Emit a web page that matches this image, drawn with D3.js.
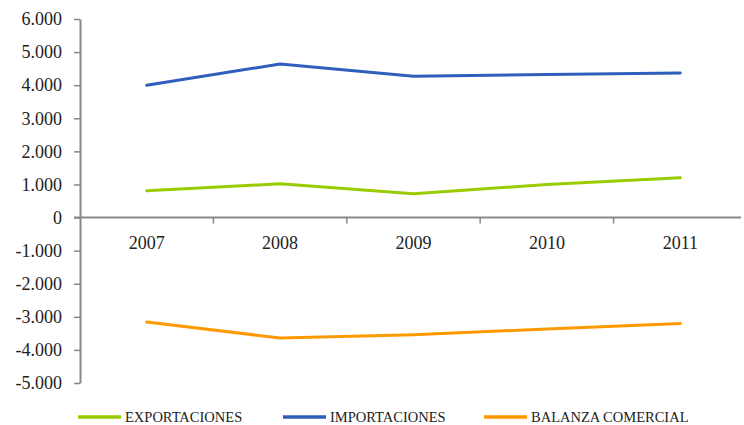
<!DOCTYPE html>
<html>
<head>
<meta charset="utf-8">
<script src="https://cdn.jsdelivr.net/npm/d3@7"></script>
<style>
  body { margin: 0; background: #fff; }
  svg text { font-family: "Liberation Serif", "DejaVu Serif", serif !important; fill: #222; }
</style>
</head>
<body>
<div id="chart"></div>
<script>
const years = ['2007', '2008', '2009', '2010', '2011'];
const exportaciones = [810, 1020, 720, 1000, 1200];
const importaciones = [4000, 4640, 4270, 4320, 4370];
const balanza = [-3160, -3640, -3540, -3370, -3200];
const yTicks = [6000, 5000, 4000, 3000, 2000, 1000, 0, -1000, -2000, -3000, -4000, -5000];

const series = [
  { name: 'EXPORTACIONES', values: exportaciones, color: '#99cc00' },
  { name: 'IMPORTACIONES', values: importaciones, color: '#2f5fbd' },
  { name: 'BALANZA COMERCIAL', values: balanza, color: '#ff9900' },
];

const width = 744;
const height = 425;
const serif = '"Liberation Serif", "DejaVu Serif", serif';

const svg = d3.select('#chart').append('svg')
  .attr('width', width)
  .attr('height', height)
  .attr('font-family', serif);

const x = d3.scaleBand()
  .domain(years)
  .range([80, 747]);

const y = d3.scaleLinear()
  .domain([-5000, 6000])
  .range([383, 19]);

const fmt = v => d3.format(',')(v).replace(/,/g, '.').replace('−', '-');

// y axis
const yAxis = svg.append('g')
  .attr('transform', 'translate(80,0)')
  .call(d3.axisLeft(y).tickValues(yTicks).tickFormat(fmt).tickSize(6).tickSizeOuter(0))
  .attr('font-family', serif)
  .attr('font-size', 18);
yAxis.select('.domain').attr('stroke', '#888').attr('stroke-width', 2);
yAxis.selectAll('.tick line').attr('stroke', '#888').attr('stroke-width', 1.5);
yAxis.selectAll('.tick text')
  .attr('x', -18)
  .attr('fill', '#222');

// x axis at zero, ticks between categories
const x0 = y(0);
svg.append('line')
  .attr('x1', 74).attr('x2', 741)
  .attr('y1', x0).attr('y2', x0)
  .attr('stroke', '#888').attr('stroke-width', 2);

svg.selectAll('.xtick')
  .data(years.slice(1))
  .enter().append('line')
  .attr('x1', d => x(d)).attr('x2', d => x(d))
  .attr('y1', x0).attr('y2', x0 + 6)
  .attr('stroke', '#888').attr('stroke-width', 1.5);

svg.selectAll('.xlabel')
  .data(years)
  .enter().append('text')
  .attr('x', d => x(d) + x.bandwidth() / 2)
  .attr('y', x0 + 31)
  .attr('text-anchor', 'middle')
  .attr('font-size', 18)
  .text(d => d);

// lines
const line = d3.line()
  .x((d, i) => x(years[i]) + x.bandwidth() / 2)
  .y(d => y(d));

series.forEach(s => {
  svg.append('path')
    .datum(s.values)
    .attr('fill', 'none')
    .attr('stroke', s.color)
    .attr('stroke-width', 3)
    .attr('stroke-linecap', 'round')
    .attr('stroke-linejoin', 'round')
    .attr('d', line);
});

// legend
const legendX = [78, 283, 484];
const legend = svg.selectAll('.legend')
  .data(series)
  .enter().append('g')
  .attr('transform', (d, i) => `translate(${legendX[i]},417)`);

legend.append('line')
  .attr('x1', 0).attr('x2', 43)
  .attr('y1', 0).attr('y2', 0)
  .attr('stroke', d => d.color)
  .attr('stroke-width', 3.5);

legend.append('text')
  .attr('x', 47)
  .attr('y', 4.5)
  .attr('font-size', 14.5)
  .text(d => d.name);
</script>
</body>
</html>
